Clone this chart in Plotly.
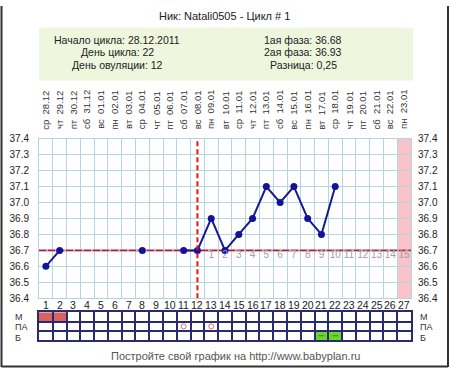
import plotly.graph_objects as go

W, H = 450, 374
days = list(range(1, 28))
weekdays = ["ср", "чт", "пт", "сб", "вс", "пн", "вт", "ср", "чт", "пт", "сб", "вс", "пн", "вт",
            "ср", "чт", "пт", "сб", "вс", "пн", "вт", "ср", "чт", "пт", "сб", "вс", "пн"]
dates = ["28.12", "29.12", "30.12", "31.12", "01.01", "02.01", "03.01", "04.01", "05.01",
         "06.01", "07.01", "08.01", "09.01", "10.01", "11.01", "12.01", "13.01", "14.01",
         "15.01", "16.01", "17.01", "18.01", "19.01", "20.01", "21.01", "22.01", "23.01"]
temps = [36.6, 36.7, None, None, None, None, None, 36.7, None, None, 36.7, 36.7, 36.9, 36.7,
         36.8, 36.9, 37.1, 37.0, 37.1, 36.9, 36.8, 37.1, None, None, None, None, None]
coverline = 36.7
ovulation_day = 12
phase2_days = list(range(13, 28))
phase2_labels = [str(i) for i in range(1, 16)]
expected_day = 27
m_days = [1, 2]
pa_days = [11, 13]
b_days = [21, 22]
row_labels = ["М", "ПА", "Б"]
title = "Ник: Natali0505 - Цикл # 1"
info_left = ["Начало цикла: 28.12.2011", "День цикла: 22", "День овуляции: 12"]
info_right = ["1ая фаза: 36.68", "2ая фаза: 36.93", "Разница: 0,25"]
footer = "Постройте свой график на http://www.babyplan.ru"

FONT = "Arial, Liberation Sans, sans-serif"
GRID = "#b2d5e1"
NAVY = "#2a2a70"

def px(x):
    return x / W

def py(y):
    return 1 - y / H

xdom = [px(39), px(411)]
ydom = [py(302), py(137)]
tdom = [py(345.5), py(316.5)]
bounds = [d - 0.5 for d in days] + [days[-1] + 0.5]

fig = go.Figure()

fig.add_trace(go.Scatter(
    x=days, y=temps, mode="lines+markers", connectgaps=False,
    line=dict(color="#1a1a8c", width=2),
    marker=dict(color="#1212a0", size=7),
    showlegend=False, hoverinfo="skip"))

fig.add_trace(go.Scatter(
    x=phase2_days, y=[coverline - 0.035] * len(phase2_days), mode="text",
    text=phase2_labels, textfont=dict(family=FONT, size=10, color="#a0a0a0"),
    showlegend=False, hoverinfo="skip"))

# invisible trace for right axis
fig.add_trace(go.Scatter(x=[days[0]], y=[37.0], yaxis="y2", mode="markers",
                         marker=dict(opacity=0), showlegend=False, hoverinfo="skip"))

# table circles (ПА)
fig.add_trace(go.Scatter(
    x=pa_days, y=[1.5] * len(pa_days), xaxis="x2", yaxis="y3", mode="markers",
    marker=dict(symbol="circle-open", size=5, color="#e06a6a", line=dict(width=1)),
    showlegend=False, hoverinfo="skip"))
fig.add_trace(go.Scatter(
    x=b_days, y=[0.5] * len(b_days), xaxis="x2", yaxis="y3", mode="markers",
    marker=dict(symbol="line-ew", size=4, color="#3c8a14", line=dict(width=1, color="#3c8a14")),
    showlegend=False, hoverinfo="skip"))

shapes = []
shapes.append(dict(type="rect", xref="paper", yref="paper", x0=px(39), x1=px(413),
                   y0=py(77), y1=py(22.5), fillcolor="#eef6de", line=dict(width=0), layer="below"))
shapes.append(dict(type="rect", xref="x", yref="y", x0=expected_day - 0.5, x1=expected_day + 0.5,
                   y0=36.4, y1=37.4, fillcolor="#f9c3ca", line=dict(width=0), layer="below"))
shapes.append(dict(type="line", xref="x", yref="y", x0=0.5, x1=27.5, y0=coverline, y1=coverline,
                   line=dict(color="#e39aab", width=2.5), layer="between"))
shapes.append(dict(type="line", xref="x", yref="y", x0=0.5, x1=27.5, y0=coverline, y1=coverline,
                   line=dict(color="#9c2245", width=1.4, dash="7px,2px"), layer="between"))
shapes.append(dict(type="line", xref="x", yref="y", x0=ovulation_day, x1=ovulation_day,
                   y0=36.4, y1=37.4, line=dict(color="#dd1818", width=2, dash="5px,3px"),
                   layer="above"))
for d in m_days:
    shapes.append(dict(type="rect", xref="x2", yref="y3", x0=d - 0.5, x1=d + 0.5, y0=2, y1=3,
                       fillcolor="#d8625e", line=dict(width=0), layer="below"))
for d in b_days:
    shapes.append(dict(type="rect", xref="x2", yref="y3", x0=d - 0.5, x1=d + 0.5, y0=0, y1=1,
                       fillcolor="#6cd62a", line=dict(width=0), layer="below"))
for (x0, y0, x1, y1) in [(1.5, 0, 1.5, 373), (1.5, 372.5, 448, 372.5), (448, 0, 448, 373)]:
    shapes.append(dict(type="line", xref="paper", yref="paper", x0=px(x0), x1=px(x1),
                       y0=py(y0), y1=py(y1), line=dict(color="#333333", width=2)))

def pann(text, x, y, size=11, color="#222", xanchor="center"):
    return dict(text=text, x=px(x), y=py(y), xref="paper", yref="paper", xanchor=xanchor,
                yanchor="middle", showarrow=False, font=dict(family=FONT, size=size, color=color))

ann = [pann(title, 224, 10)]
for i, t in enumerate(info_left):
    ann.append(pann(t, 117, 35 + 13 * i, size=10.5))
for i, t in enumerate(info_right):
    ann.append(pann(t, 303, 35 + 13 * i, size=10.5))
for d, wd, dt in zip(days, weekdays, dates):
    ann.append(dict(text=wd + "\u00a0\u00a0" + dt, x=d, xref="x", y=py(129.5), yref="paper",
                    textangle=-90, yanchor="bottom", xanchor="center", showarrow=False,
                    font=dict(family=FONT, size=9.5, color="#333")))
    ann.append(dict(text=str(d), x=d, xref="x", y=py(309), yref="paper", showarrow=False,
                    xanchor="center", yanchor="middle",
                    font=dict(family=FONT, size=10.5, color="#222")))
for i, lab in enumerate(row_labels):
    yy = 321.5 + 10.5 * i
    ann.append(pann(lab, 13, yy, size=9, color="#333", xanchor="left"))
    ann.append(pann(lab, 418, yy, size=9, color="#333", xanchor="left"))
ann.append(pann(footer, 235.5, 362, size=11, color="#555"))

yticks = [round(36.4 + 0.1 * i, 1) for i in range(11)]

fig.update_layout(
    width=W, height=H, autosize=False, margin=dict(l=0, r=0, t=0, b=0),
    paper_bgcolor="white", plot_bgcolor="white", showlegend=False,
    font=dict(family=FONT, size=10, color="#222"),
    shapes=shapes, annotations=ann,
    xaxis=dict(domain=xdom, range=[0.5, 27.5], tickvals=bounds, showticklabels=False,
               showgrid=True, gridcolor=GRID, gridwidth=1, zeroline=False, ticks="",
               showline=True, linecolor=GRID, mirror=True, fixedrange=True),
    yaxis=dict(domain=ydom, range=[36.4, 37.4], tickvals=yticks, tickformat=".1f",
               showgrid=True, gridcolor=GRID, gridwidth=1, zeroline=False, ticks="",
               ticklabelstandoff=7, tickfont=dict(family=FONT, size=10, color="#222"),
               showline=True, linecolor=GRID, mirror=True),
    yaxis2=dict(overlaying="y", side="right", range=[36.4, 37.4], tickvals=yticks,
                tickformat=".1f", showgrid=False, zeroline=False, ticks="",
                ticklabelstandoff=6, tickfont=dict(family=FONT, size=10, color="#222"),
                anchor="x"),
    xaxis2=dict(domain=xdom, range=[0.5, 27.5], tickvals=bounds, showticklabels=False,
                showgrid=True, gridcolor=NAVY, gridwidth=1.5, zeroline=False, ticks="",
                showline=True, linecolor=NAVY, linewidth=1.5, mirror=True, anchor="y3"),
    yaxis3=dict(domain=tdom, range=[0, 3], tickvals=[0, 1, 2, 3], showticklabels=False,
                showgrid=True, gridcolor=NAVY, gridwidth=1.5, zeroline=False, ticks="",
                showline=True, linecolor=NAVY, linewidth=1.5, mirror=True, anchor="x2"),
)

fig.write_html("out.html", config={"displayModeBar": False})
